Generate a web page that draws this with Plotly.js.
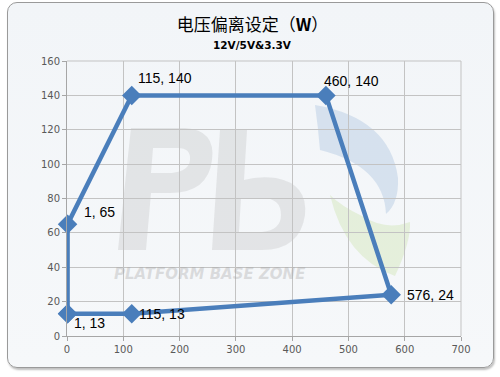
<!DOCTYPE html>
<html>
<head>
<meta charset="utf-8">
<script src="https://cdn.plot.ly/plotly-3.0.1.min.js"></script>
<style>
  html, body { margin: 0; padding: 0; background: #ffffff; }
  #frame { position: absolute; left: 7px; top: 2px; width: 485px; height: 364px;
           border: 1.5px solid #9a9a9a; border-radius: 10px;
           background: linear-gradient(180deg, #f2f5f8 0%, #f6f8fa 100%);
           box-shadow: 1px 2px 2px rgba(0,0,0,0.25); }
  #chart { position: absolute; left: 0; top: 0; width: 500px; height: 377px; }
</style>
</head>
<body>
<div id="frame"></div>
<div id="chart"></div>
<script>
const xValues = [1, 1, 115, 460, 576, 115, 1];
const yValues = [13, 65, 140, 140, 24, 13, 13];
const pointLabels = ["1, 13", "1, 65", "115, 140", "460, 140", "576, 24", "115, 13", ""];
const xTicks = [0, 100, 200, 300, 400, 500, 600, 700];
const yTicks = [0, 20, 40, 60, 80, 100, 120, 140, 160];

// label offsets in pixels (styling only)
const labelShiftX = [4, 14, 4, -4, 14, 5, 0];
const labelShiftY = [-9, 12, 17, 14, 0, 0, 0];

const M = { l: 67, r: 39, t: 61, b: 41 };
const W = 500, H = 377;
const PW = W - M.l - M.r, PH = H - M.t - M.b;
// convert a path written in picture pixels to paper fractions (decorative watermark only)
function pp(d) {
  let isX = true;
  return d.replace(/-?\d+(\.\d+)?/g, n => {
    const v = parseFloat(n);
    const out = isX ? (v - M.l) / PW : (M.t + PH - v) / PH;
    isX = !isX;
    return out.toFixed(4);
  });
}

const trace = {
  x: xValues, y: yValues, type: 'scatter', mode: 'lines+markers',
  line: { color: '#4a7ebb', width: 4.5 },
  marker: { symbol: 'diamond', size: 15, color: '#4a7ebb' },
  cliponaxis: false, hoverinfo: 'none'
};

const labelAnnotations = pointLabels.map((t, i) => ({
  text: t, x: xValues[i], y: yValues[i], xref: 'x', yref: 'y',
  xanchor: 'left', yanchor: 'middle', showarrow: false,
  xshift: labelShiftX[i], yshift: labelShiftY[i],
  font: { family: 'Liberation Sans, Arial, sans-serif', size: 14, color: '#000000' }
})).filter(a => a.text !== "");

const wmGray = 'rgba(165,165,165,0.22)';
const watermark = [
  { d: 'M118,250 L131,128 L185,128 Q216,130 212,160 Q208,193 170,193 L151,193 L146,250 Z M153,148 L151,173 L172,173 Q189,171 190,160 Q191,148 178,148 Z', c: wmGray },
  { d: 'M220,130 L247,130 L244,180 Q258,176 276,178 Q308,184 305,215 Q300,250 262,250 L212,250 Z M241,198 L239,232 L262,232 Q281,230 281,215 Q281,198 262,198 Z', c: wmGray },
  { d: 'M315,105 Q390,118 398,178 Q399,203 386,214 Q384,166 320,150 Q318,126 315,105 Z', c: 'rgba(170,195,222,0.4)' },
  { d: 'M330,195 Q345,258 395,276 Q411,242 410,222 Q386,231 362,216 Q341,206 330,195 Z', c: 'rgba(205,228,175,0.4)' }
].map(s => ({ type: 'path', xref: 'paper', yref: 'paper', path: pp(s.d), fillcolor: s.c,
              fillrule: 'evenodd', line: { width: 0 }, layer: 'below' }));

const layout = {
  width: W, height: H,
  margin: M,
  paper_bgcolor: 'rgba(0,0,0,0)', plot_bgcolor: 'rgba(0,0,0,0)',
  showlegend: false,
  title: { text: '电压偏离设定（<b>W</b>）', x: 0.505, xanchor: 'center', y: 0.933, yanchor: 'middle',
           font: { family: 'Noto Sans CJK SC, sans-serif', size: 17, color: '#000000' } },
  xaxis: { range: [0, 700], tickvals: xTicks, showgrid: true, gridcolor: '#c3c3c3', gridwidth: 1,
           zeroline: false, showline: true, linecolor: '#a6a6a6', linewidth: 1,
           ticks: 'outside', ticklen: 4, tickcolor: '#a6a6a6',
           tickfont: { family: 'DejaVu Sans, sans-serif', size: 10, color: '#595959' }, fixedrange: true },
  yaxis: { range: [0, 160], tickvals: yTicks, showgrid: true, gridcolor: '#c3c3c3', gridwidth: 1,
           zeroline: false, showline: true, linecolor: '#a6a6a6', linewidth: 1,
           ticks: 'outside', ticklen: 4, tickcolor: '#a6a6a6',
           tickfont: { family: 'DejaVu Sans, sans-serif', size: 10, color: '#595959' }, fixedrange: true },
  shapes: watermark.concat([
    { type: 'line', xref: 'paper', yref: 'paper', x0: 1, x1: 1, y0: 0, y1: 1, line: { color: '#c3c3c3', width: 1 } },
    { type: 'line', xref: 'paper', yref: 'paper', x0: 0, x1: 1, y0: 1, y1: 1, line: { color: '#c3c3c3', width: 1 } }
  ]),
  annotations: [
    { text: '<b>12V/5V&3.3V</b>', xref: 'paper', yref: 'paper', x: 0.47, y: 1.058, xanchor: 'center', yanchor: 'middle',
      showarrow: false, font: { family: 'DejaVu Sans, sans-serif', size: 10.5, color: '#000000' } },
    { text: '<b><i>PLATFORM BASE ZONE</i></b>', xref: 'paper', yref: 'paper', x: 0.363, y: 0.225,
      xanchor: 'center', yanchor: 'middle', showarrow: false,
      font: { family: 'DejaVu Sans, sans-serif', size: 15, color: 'rgba(165,165,165,0.35)' } }
  ].concat(labelAnnotations)
};

Plotly.newPlot('chart', [trace], layout, { displayModeBar: false, staticPlot: true });
</script>
</body>
</html>
